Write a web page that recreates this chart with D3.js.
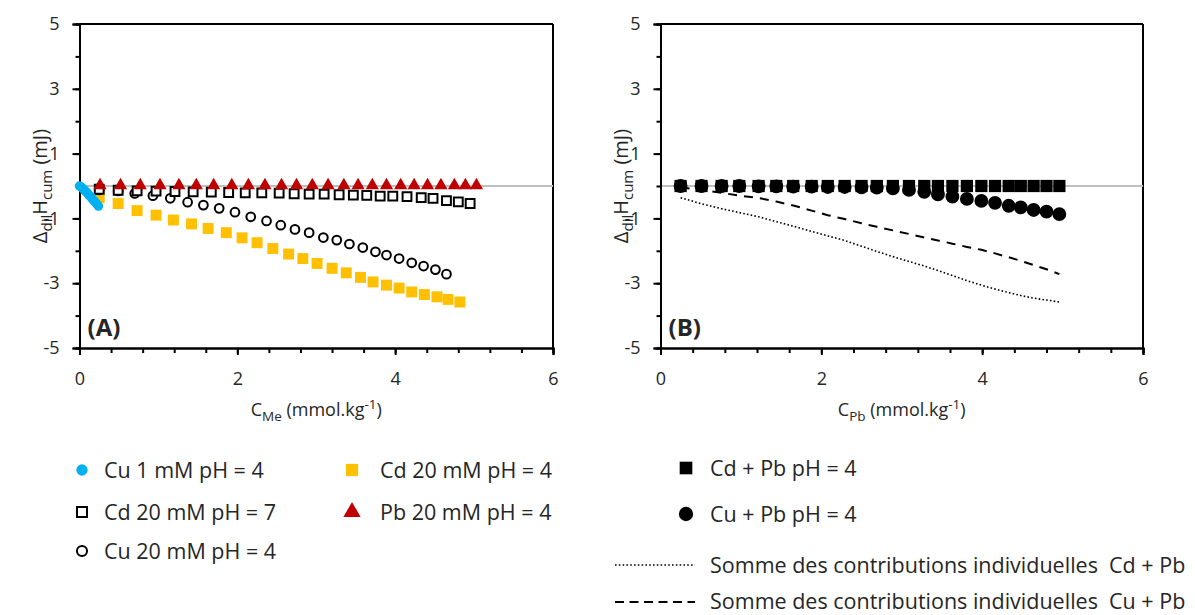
<!DOCTYPE html>
<html><head><meta charset="utf-8">
<script src="https://cdn.jsdelivr.net/npm/d3@7"></script>
<style>
body{margin:0;background:#fff;}
svg text{font-family:"Open Sans",sans-serif;fill:#262626;}
</style></head>
<body><svg id="c" width="1195" height="615"></svg>
<script>
// ---------- data ----------
const yTicks = [-5,-3,-1,1,3,5];
const xTicks = [0,2,4,6];

const cu1X = [0,0.02,0.04,0.06,0.08,0.10,0.12,0.14,0.16,0.18,0.20,0.22,0.24];
const cu1Y = [0,-0.03,-0.07,-0.12,-0.17,-0.22,-0.28,-0.33,-0.39,-0.45,-0.50,-0.56,-0.62];

const cd7X = [0.25,0.49,0.73,0.97,1.21,1.44,1.67,1.89,2.10,2.31,2.53,2.72,2.91,3.10,3.29,3.47,3.64,3.81,3.97,4.15,4.33,4.48,4.65,4.80,4.95];
const cd7Y = [-0.10,-0.13,-0.15,-0.16,-0.17,-0.18,-0.19,-0.20,-0.21,-0.21,-0.22,-0.24,-0.25,-0.25,-0.27,-0.28,-0.29,-0.31,-0.31,-0.33,-0.36,-0.38,-0.45,-0.49,-0.54];

const cu20X = [0.25,0.49,0.70,0.93,1.15,1.37,1.57,1.77,1.97,2.17,2.37,2.55,2.73,2.91,3.09,3.26,3.42,3.59,3.75,3.89,4.05,4.21,4.36,4.51,4.65];
const cu20Y = [-0.12,-0.15,-0.23,-0.30,-0.38,-0.50,-0.59,-0.69,-0.81,-0.95,-1.08,-1.21,-1.34,-1.44,-1.59,-1.67,-1.79,-1.90,-2.03,-2.13,-2.24,-2.37,-2.47,-2.58,-2.72];

const cd4X = [0.25,0.49,0.73,0.97,1.19,1.42,1.63,1.86,2.06,2.25,2.45,2.65,2.83,3.01,3.20,3.38,3.56,3.72,3.89,4.05,4.21,4.37,4.53,4.67,4.82];
const cd4Y = [-0.36,-0.54,-0.76,-0.90,-1.05,-1.17,-1.31,-1.44,-1.60,-1.75,-1.93,-2.10,-2.24,-2.39,-2.54,-2.68,-2.82,-2.96,-3.06,-3.15,-3.27,-3.35,-3.42,-3.50,-3.58];

const pbX = [0.26,0.52,0.77,1.02,1.26,1.48,1.70,1.93,2.14,2.35,2.56,2.75,2.95,3.15,3.35,3.53,3.71,3.89,4.07,4.24,4.41,4.58,4.75,4.89,5.03];
const pbY = [0.02,0.02,0.02,0.02,0.02,0.02,0.02,0.02,0.02,0.02,0.02,0.02,0.02,0.02,0.02,0.02,0.02,0.02,0.02,0.02,0.02,0.02,0.02,0.02,0.02];

const mixX = [0.25,0.51,0.76,0.98,1.22,1.44,1.65,1.88,2.08,2.29,2.50,2.69,2.89,3.09,3.28,3.45,3.63,3.81,3.99,4.16,4.33,4.48,4.64,4.80,4.96];
const cdPbY = [0,0,0,0,0,0,0,0,0,0,0,0,0,0,0,0,0,0,0,0,0,0,0,0,0];
const cuPbY = [0,0,0,0,-0.01,-0.01,-0.02,-0.02,-0.03,-0.03,-0.04,-0.05,-0.07,-0.12,-0.18,-0.26,-0.33,-0.40,-0.46,-0.52,-0.61,-0.66,-0.74,-0.79,-0.87];
const sumCdPbY = [-0.36,-0.55,-0.70,-0.82,-0.95,-1.10,-1.24,-1.40,-1.54,-1.68,-1.86,-2.02,-2.18,-2.33,-2.47,-2.61,-2.76,-2.92,-3.06,-3.18,-3.29,-3.38,-3.46,-3.52,-3.58];
const sumCuPbY = [-0.05,-0.12,-0.21,-0.30,-0.37,-0.48,-0.60,-0.76,-0.90,-1.02,-1.15,-1.26,-1.37,-1.48,-1.59,-1.68,-1.78,-1.88,-1.97,-2.08,-2.20,-2.31,-2.44,-2.57,-2.72];

const legendA = ["Cu 1 mM pH = 4","Cd 20 mM pH = 7","Cu 20 mM pH = 4","Cd 20 mM pH = 4","Pb 20 mM pH = 4"];
const legendB = ["Cd + Pb pH = 4","Cu + Pb pH = 4","Somme des contributions individuelles\u00a0 Cd + Pb","Somme des contributions individuelles\u00a0 Cu + Pb"];

// ---------- drawing ----------
const svg = d3.select("#c");
const FS = 18;      // tick labels / x titles
const SUB = 13.5;   // sub/superscripts
const LFS = 21.5;   // legend
const zip = (xs, ys) => xs.map((x,i)=>[x, ys[i]]);

function panel(left, right, sub, label){
  const x = d3.scaleLinear().domain([0,6]).range([left,right]);
  const y = d3.scaleLinear().domain([-5,5]).range([348,24]);
  const g = svg.append("g");
  g.append("line").attr("x1",left).attr("x2",right).attr("y1",y(5)).attr("y2",y(5)).attr("stroke","#000").attr("stroke-width",2);
  g.append("line").attr("x1",right).attr("x2",right).attr("y1",y(5)).attr("y2",y(-5)).attr("stroke","#000").attr("stroke-width",2);
  g.append("line").attr("x1",left).attr("x2",right).attr("y1",y(0)).attr("y2",y(0)).attr("stroke","#bfbfbf").attr("stroke-width",2);
  const ya = g.append("g").attr("transform",`translate(${left},0)`)
    .call(d3.axisLeft(y).tickValues(d3.range(-5,6,1)).tickSize(4).tickFormat(""));
  const ya2 = g.append("g").attr("transform",`translate(${left},0)`)
    .call(d3.axisLeft(y).tickValues(yTicks).tickSize(7).tickPadding(13).tickFormat(d=>String(d)));
  const xa = g.append("g").attr("transform",`translate(0,${y(-5)})`)
    .call(d3.axisBottom(x).tickValues(d3.range(0,6.01,0.4)).tickSize(5).tickFormat(""));
  const xa2 = g.append("g").attr("transform",`translate(0,${y(-5)})`)
    .call(d3.axisBottom(x).tickValues(xTicks).tickSize(7).tickPadding(17).tickFormat(d=>String(d)));
  [ya,ya2,xa,xa2].forEach(a=>{
    a.selectAll(".domain").attr("stroke","#000").attr("stroke-width",2);
    a.selectAll(".tick line").attr("stroke","#000").attr("stroke-width",2);
    a.selectAll("text").style("font-size",FS+"px").style("font-family","Open Sans").attr("fill","#262626");
  });
  const yt = g.append("text").attr("transform",`translate(${left-33},${y(0)}) rotate(-90)`)
    .attr("text-anchor","middle").style("font-size","20px");
  yt.append("tspan").text("\u0394");
  yt.append("tspan").text("dil").attr("dy",5).style("font-size","15px");
  yt.append("tspan").text("H").attr("dy",-5);
  yt.append("tspan").text("cum").attr("dy",5).style("font-size","15px");
  yt.append("tspan").text(" (mJ)").attr("dy",-5);
  const xt = g.append("text").attr("x",(left+right)/2).attr("y",416).attr("text-anchor","middle").style("font-size",FS+"px");
  xt.append("tspan").text("C");
  xt.append("tspan").text(sub).attr("dy",5).style("font-size",SUB+"px");
  xt.append("tspan").text(" (mmol.kg").attr("dy",-5);
  xt.append("tspan").text("-1").attr("dy",-7).style("font-size",SUB+"px");
  xt.append("tspan").text(")").attr("dy",7);
  g.append("text").attr("x",left+8).attr("y",336).text(label).style("font-size","24px").style("font-weight","bold");
  return {g,x,y};
}

const A = panel(79.5, 553, "Me", "(A)");
const B = panel(660.5, 1143, "Pb", "(B)");

function sym(type, size){ return d3.symbol().type(type).size(size)(); }
function pts(P, data, draw){
  P.g.append("g").selectAll("path").data(data).join("path")
    .attr("transform",d=>`translate(${P.x(d[0])},${P.y(d[1])})`)
    .call(draw);
}
pts(A, zip(cd4X,cd4Y), s=>s.attr("d",sym(d3.symbolSquare,120)).attr("fill","#FFC000"));
pts(A, zip(cu20X,cu20Y), s=>s.attr("d",sym(d3.symbolCircle,60)).attr("fill","none").attr("stroke","#000").attr("stroke-width",2));
pts(A, zip(cd7X,cd7Y), s=>s.attr("d",sym(d3.symbolSquare,78)).attr("fill","#fff").attr("stroke","#000").attr("stroke-width",2));
pts(A, zip(pbX,pbY), s=>s.attr("d",sym(d3.symbolTriangle,75)).attr("fill","#C00000"));
pts(A, zip(cu1X,cu1Y), s=>s.attr("d",sym(d3.symbolCircle,70)).attr("fill","#00B0F0"));

const lineB = d3.line().x(d=>B.x(d[0])).y(d=>B.y(d[1]));
B.g.append("path").datum(zip(mixX,sumCdPbY)).attr("d",lineB).attr("fill","none").attr("stroke","#000").attr("stroke-width",1.6).attr("stroke-dasharray","1.6,2.2");
B.g.append("path").datum(zip(mixX,sumCuPbY)).attr("d",lineB).attr("fill","none").attr("stroke","#000").attr("stroke-width",2).attr("stroke-dasharray","9,7");
pts(B, zip(mixX,cuPbY), s=>s.attr("d",sym(d3.symbolCircle,150)).attr("fill","#000"));
pts(B, zip(mixX,cdPbY), s=>s.attr("d",sym(d3.symbolSquare,150)).attr("fill","#000"));

// ---------- legends ----------
const lg = svg.append("g").style("font-size",LFS+"px");
const legA = [
  {x:82,y:470,tx:104,t:legendA[0],d:sym(d3.symbolCircle,100),f:"#00B0F0",s:"none"},
  {x:82,y:512,tx:104,t:legendA[1],d:sym(d3.symbolSquare,100),f:"#fff",s:"#000"},
  {x:82,y:551,tx:104,t:legendA[2],d:sym(d3.symbolCircle,80),f:"#fff",s:"#000"},
  {x:352,y:470,tx:380,t:legendA[3],d:sym(d3.symbolSquare,150),f:"#FFC000",s:"none"},
  {x:352,y:512,tx:380,t:legendA[4],d:sym(d3.symbolTriangle,130),f:"#C00000",s:"none"}
];
legA.forEach(o=>{
  lg.append("path").attr("d",o.d).attr("transform",`translate(${o.x},${o.y})`).attr("fill",o.f).attr("stroke",o.s).attr("stroke-width",2);
  lg.append("text").attr("x",o.tx).attr("y",o.y+7.5).text(o.t);
});
lg.append("path").attr("d",sym(d3.symbolSquare,160)).attr("transform","translate(686,468)").attr("fill","#000");
lg.append("text").attr("x",710).attr("y",475.5).text(legendB[0]);
lg.append("path").attr("d",sym(d3.symbolCircle,160)).attr("transform","translate(686,514)").attr("fill","#000");
lg.append("text").attr("x",710).attr("y",521.5).text(legendB[1]);
lg.append("line").attr("x1",615).attr("x2",695).attr("y1",565).attr("y2",565).attr("stroke","#000").attr("stroke-width",1.6).attr("stroke-dasharray","1.6,2.2");
lg.append("text").attr("x",710).attr("y",572.5).text(legendB[2]);
lg.append("line").attr("x1",615).attr("x2",695).attr("y1",602).attr("y2",602).attr("stroke","#000").attr("stroke-width",2).attr("stroke-dasharray","9,5.5");
lg.append("text").attr("x",710).attr("y",608.5).text(legendB[3]);
</script></body></html>
